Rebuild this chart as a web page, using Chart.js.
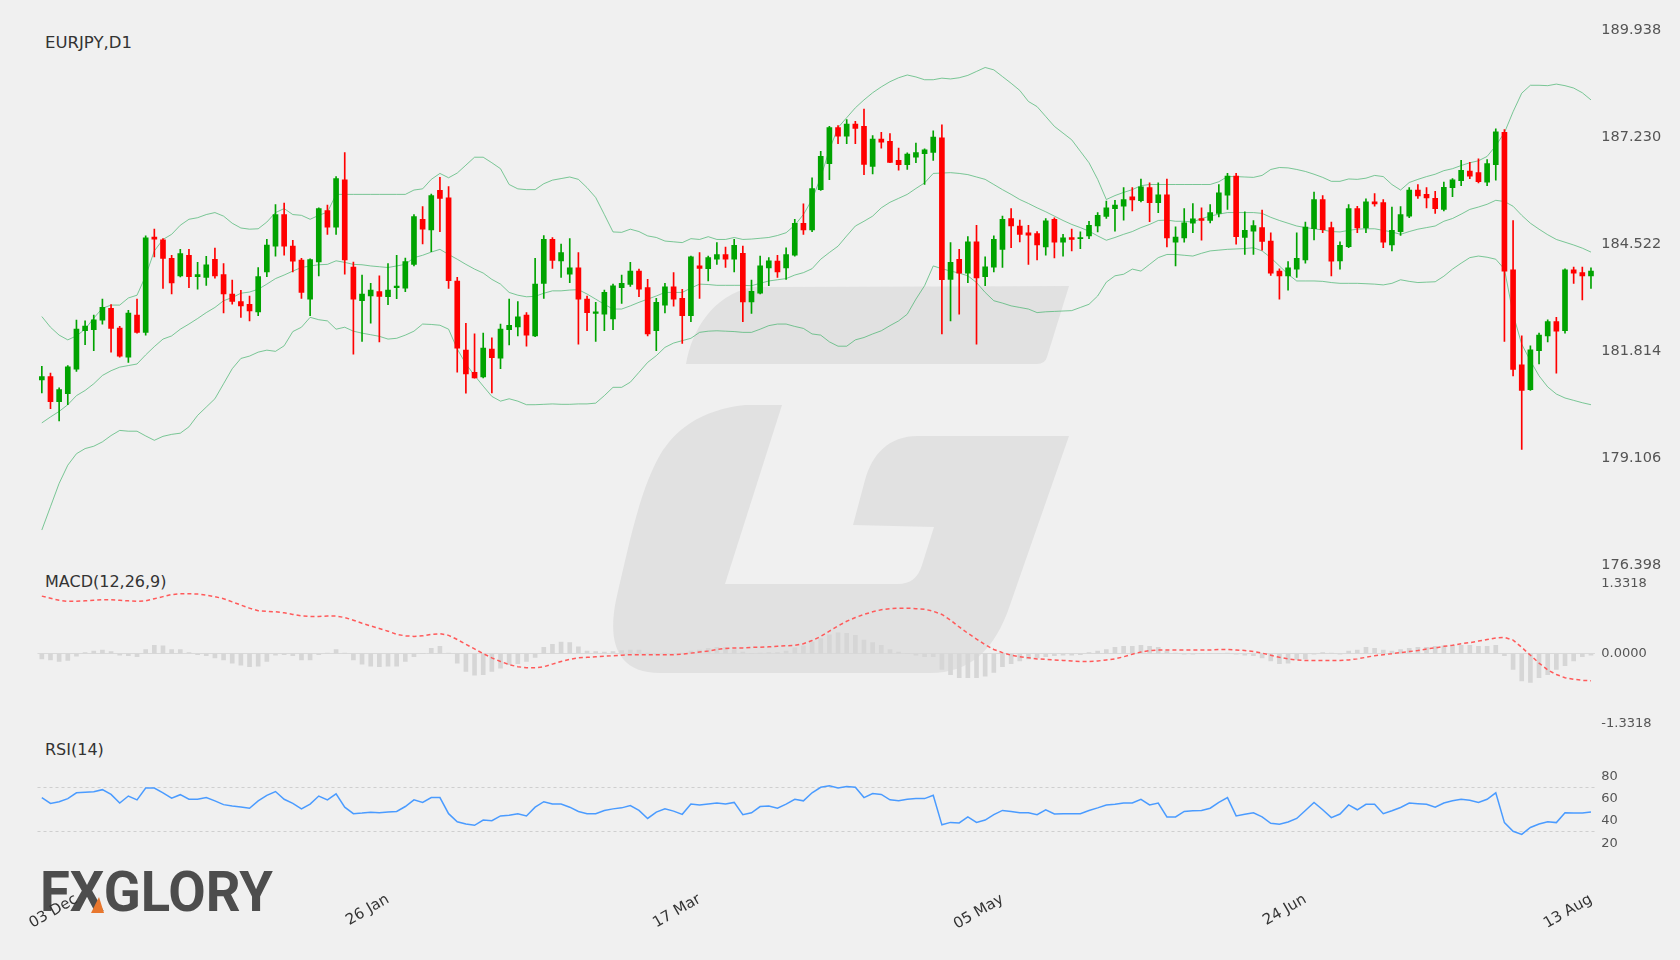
<!DOCTYPE html>
<html>
<head>
<meta charset="utf-8">
<script src="https://cdn.jsdelivr.net/npm/chart.js@4.4.1/dist/chart.umd.min.js"></script>
<style>
html,body{margin:0;padding:0;background:#f0f0f0;width:1680px;height:960px;overflow:hidden;font-family:"DejaVu Sans",sans-serif;}
canvas{position:absolute;left:0;}
#wm{position:absolute;left:0;top:0;}
.t{position:absolute;left:45px;font-size:16px;line-height:16px;color:#333;white-space:nowrap;}
#logo{position:absolute;left:40px;top:864px;font-family:Roboto,sans-serif;font-weight:700;font-size:56px;line-height:56px;color:#4d4d4d;transform-origin:left top;transform:scaleX(0.97);white-space:nowrap;}
</style>
</head>
<body>
<svg id="wm" width="1680" height="960">
  <path d="M686 364 C692 330 712 296 752 287 L1069 286 L1047 357 Q1045 364 1037 364 Z" fill="#e1e1e1"/>
  <path d="M782 405 L745 405 C700 410 675 430 660 455 C640 490 630 540 616 600 C608 640 615 673 660 673 L930 673 C970 673 995 650 1010 605 L1069 436 L918 436 C888 436 872 455 865 480 L853 525 L934 527 L922 565 C918 578 910 584 898 584 L725 584 Z" fill="#e1e1e1"/>
</svg>
<div id="logo">FXGLORY</div>
<svg style="position:absolute;left:0;top:0" width="1680" height="960"><path d="M91 913 L99 897 L104 913 Z" fill="#e8772e"/></svg>
<div class="t" style="top:35px;font-size:16.5px">EURJPY,D1</div>
<div class="t" style="top:574px">MACD(12,26,9)</div>
<div class="t" style="top:742px">RSI(14)</div>
<canvas id="main" width="1680" height="580" style="top:0"></canvas>
<canvas id="macd" width="1680" height="170" style="top:570px"></canvas>
<canvas id="rsi" width="1680" height="220" style="top:740px"></canvas>
<script>
const dateLabels = ['03 Dec','26 Jan','17 Mar','05 May','24 Jun','13 Aug'];
const dateIndex = [4, 40, 76, 111, 146, 179];
const priceTicks = [176.398, 179.106, 181.814, 184.522, 187.230, 189.938];
const macdTicks = [-1.3318, 0, 1.3318];
const rsiTicks = [20, 40, 60, 80];
const rsiLevels = [30, 70];

const open = [
181.09,181.17,180.54,180.74,181.36,182.33,182.36,182.60,182.90,182.40,
181.66,182.73,182.29,184.70,184.63,184.16,183.72,184.24,183.70,183.68,
184.14,183.75,183.26,183.07,183.00,182.81,183.82,184.47,185.27,184.47,
184.12,183.13,184.07,185.37,184.95,186.15,183.94,183.09,183.21,183.32,
183.19,183.42,183.41,184.01,185.15,184.88,185.88,185.69,183.59,181.84,
181.28,181.16,181.87,181.64,182.36,182.43,182.73,182.20,183.53,184.64,
184.10,183.76,183.92,183.13,182.77,182.75,182.63,183.42,183.50,183.84,
183.42,182.33,182.98,183.44,183.15,182.71,183.97,183.90,184.14,184.26,
184.14,184.29,183.06,183.28,183.92,184.09,183.92,184.24,185.05,184.88,
185.90,186.56,187.47,187.25,187.56,187.50,186.49,187.18,187.12,186.64,
186.53,186.72,186.81,186.84,187.21,183.63,184.14,183.79,184.58,183.70,
183.94,184.39,185.17,184.98,184.81,184.79,184.45,185.15,184.57,184.69,
184.66,184.73,184.98,185.22,185.42,185.48,185.72,185.62,185.95,185.57,
185.77,184.57,184.68,185.05,185.17,185.12,185.30,185.76,186.24,184.69,
184.85,184.94,184.60,183.84,183.72,183.89,184.12,184.91,185.65,184.94,
184.10,184.46,185.42,184.93,185.59,185.57,184.50,184.84,185.23,185.89,
185.78,185.68,185.40,185.95,186.13,186.37,186.33,186.09,186.53,187.35,
183.87,181.47,180.84,181.83,182.20,182.56,182.33,183.87,183.80,183.72];
const high = [
181.43,181.26,180.89,181.45,182.60,182.58,182.73,183.13,182.99,182.44,
182.85,183.13,184.73,184.90,184.66,184.24,184.39,184.39,184.06,184.21,
184.42,184.03,183.61,183.35,183.21,183.93,184.64,185.52,185.56,184.62,
184.16,184.15,185.44,185.51,186.23,186.84,184.07,183.74,183.53,183.72,
184.03,184.24,184.17,185.27,185.47,185.79,186.21,185.98,183.68,182.52,
182.25,182.27,182.15,182.50,183.13,183.07,182.79,184.16,184.74,184.69,
184.52,184.66,184.31,183.21,183.05,183.36,183.51,183.74,184.06,183.89,
183.63,183.15,183.53,183.80,183.38,184.22,184.31,184.22,184.56,184.45,
184.64,184.47,183.61,184.22,184.18,184.24,184.43,185.15,185.54,186.20,
186.87,187.50,187.52,187.67,187.63,187.94,187.27,187.35,187.32,186.95,
186.83,187.08,186.93,187.39,187.54,184.56,184.39,184.71,185.00,184.20,
184.73,185.23,185.42,185.13,185.00,184.84,185.17,185.19,184.77,184.90,
184.83,185.10,185.32,185.61,185.63,185.95,185.95,186.17,186.07,186.07,
186.17,184.96,185.42,185.55,185.44,185.52,186.03,186.31,186.31,185.34,
185.12,185.38,184.81,183.90,184.08,184.81,185.08,185.84,185.75,185.08,
184.58,185.52,185.48,185.67,185.80,185.65,185.46,185.47,185.95,186.03,
185.95,185.86,186.09,186.18,186.64,186.59,186.68,186.66,187.44,187.42,
185.12,182.20,181.95,182.27,182.61,182.67,183.90,183.94,183.94,183.92];
const low = [
180.76,180.36,180.05,180.46,181.30,181.98,181.83,182.50,181.79,181.66,
181.53,182.27,182.22,184.20,183.40,183.26,183.69,183.42,183.38,183.48,
183.66,182.78,183.00,182.67,182.58,182.71,183.70,184.22,184.24,183.82,
183.15,182.71,183.72,184.77,184.77,183.76,181.74,182.06,182.52,182.05,
182.99,183.14,183.32,183.97,184.53,184.33,184.84,183.40,181.28,180.75,
181.13,181.14,180.76,181.37,181.97,182.20,181.94,182.18,183.15,183.91,
183.68,183.55,181.99,182.33,182.06,182.33,182.36,183.02,183.45,183.19,
182.20,181.83,182.78,182.95,182.01,182.56,183.15,183.59,184.01,183.93,
183.82,182.56,182.77,183.26,183.47,183.68,183.63,184.22,184.77,184.84,
185.88,186.15,187.06,187.06,187.06,186.28,186.30,186.95,186.58,186.39,
186.41,186.58,186.03,186.64,182.25,182.58,182.75,183.55,181.99,183.47,
183.82,183.93,184.43,184.58,184.01,184.12,184.24,184.17,184.22,184.35,
184.41,184.66,184.83,185.17,184.85,185.13,185.36,185.59,185.09,185.32,
184.45,183.97,184.57,184.81,184.62,185.06,185.21,185.40,184.52,184.26,
184.26,184.37,183.73,183.13,183.36,183.68,184.04,184.63,184.81,183.72,
183.89,184.43,184.81,184.81,185.48,184.43,184.35,184.74,185.19,185.68,
185.44,185.30,185.36,185.72,186.00,186.18,186.07,186.00,186.14,182.06,
181.19,179.33,180.82,181.49,182.05,181.26,182.27,183.53,183.11,183.40];
const close = [
181.17,180.54,180.84,181.42,182.37,182.45,182.61,182.92,182.39,181.69,
182.78,182.29,184.68,184.65,184.16,183.54,184.28,183.70,183.75,184.00,
183.72,183.26,183.07,182.96,182.83,183.70,184.50,185.27,184.47,184.09,
183.30,184.13,185.42,184.95,186.18,184.12,183.13,183.26,183.36,183.20,
183.36,183.46,184.08,185.22,184.90,185.75,185.68,183.60,181.89,181.24,
181.14,181.89,181.65,182.37,182.47,182.68,182.22,183.51,184.64,184.11,
184.31,183.92,183.13,182.79,182.81,183.30,183.47,183.53,183.84,183.38,
182.25,183.05,183.44,183.13,182.71,184.20,183.91,184.18,184.26,184.14,
184.49,183.06,183.33,183.97,184.10,183.82,184.26,185.05,184.88,185.93,
186.74,187.47,187.25,187.56,187.45,186.54,187.18,187.10,186.59,186.53,
186.80,186.84,186.91,187.23,183.62,184.06,183.79,184.58,183.67,183.95,
184.64,185.15,184.98,184.77,184.75,184.50,185.11,184.57,184.68,184.64,
184.69,185.00,185.25,185.44,185.51,185.65,185.64,185.97,185.57,185.77,
184.68,184.70,185.06,185.16,185.12,185.32,185.82,186.24,184.71,184.87,
184.99,184.59,183.79,183.72,183.92,184.16,184.95,185.65,184.89,184.09,
184.49,185.42,184.93,185.59,185.54,184.57,184.87,185.27,185.89,185.74,
185.69,185.42,185.96,186.15,186.39,186.24,186.10,186.56,187.36,183.84,
181.35,180.82,181.85,182.22,182.56,182.32,183.87,183.79,183.72,183.84];

const bbUpper = [
182.69,182.42,182.22,182.10,182.20,182.37,182.65,182.90,182.98,182.98,
183.16,183.23,183.72,184.35,184.64,184.77,185.00,185.15,185.19,185.27,
185.32,185.23,185.05,184.93,184.90,184.91,185.08,185.32,185.42,185.27,
185.25,185.15,185.25,185.33,185.78,185.78,185.78,185.78,185.78,185.78,
185.78,185.78,185.78,185.89,185.92,186.16,186.31,186.20,186.32,186.52,
186.72,186.72,186.58,186.43,186.03,185.92,185.90,185.90,186.05,186.14,
186.18,186.22,186.16,185.95,185.70,185.27,184.83,184.82,184.90,184.84,
184.73,184.69,184.60,184.58,184.56,184.66,184.64,184.71,184.64,184.64,
184.69,184.64,184.65,184.67,184.69,184.74,184.81,185.00,185.27,185.65,
186.21,186.91,187.47,187.72,187.97,188.17,188.35,188.50,188.63,188.73,
188.80,188.75,188.68,188.68,188.72,188.70,188.73,188.79,188.89,188.99,
188.93,188.76,188.59,188.41,188.13,188.00,187.75,187.50,187.33,187.16,
186.87,186.58,186.16,185.65,185.75,185.83,185.90,186.00,186.03,186.03,
186.03,186.03,186.03,186.03,186.03,186.03,186.10,186.23,186.23,186.22,
186.21,186.26,186.41,186.46,186.45,186.41,186.36,186.29,186.21,186.11,
186.11,186.17,186.16,186.19,186.26,186.23,186.03,185.89,186.08,186.16,
186.23,186.29,186.38,186.43,186.51,186.58,186.63,186.74,187.01,187.34,
187.87,188.34,188.54,188.54,188.53,188.57,188.53,188.47,188.35,188.17];
const bbMiddle = [
180.00,180.15,180.29,180.46,180.69,180.82,180.99,181.20,181.32,181.41,
181.45,181.49,181.72,181.93,182.12,182.20,182.37,182.50,182.64,182.79,
182.92,183.09,183.17,183.28,183.31,183.38,183.51,183.65,183.74,183.84,
183.93,183.97,184.00,184.01,184.10,184.06,184.01,184.00,183.97,183.95,
183.93,183.97,184.01,184.18,184.24,184.32,184.39,184.26,184.14,184.01,
183.89,183.79,183.63,183.51,183.30,183.23,183.19,183.20,183.28,183.34,
183.34,183.36,183.37,183.26,183.13,183.00,182.88,182.88,182.96,183.05,
183.13,183.21,183.30,183.30,183.30,183.41,183.51,183.50,183.48,183.48,
183.48,183.48,183.47,183.53,183.59,183.62,183.65,183.74,183.80,183.90,
184.14,184.31,184.47,184.73,184.98,185.10,185.23,185.44,185.58,185.68,
185.78,185.93,186.07,186.31,186.32,186.33,186.31,186.28,186.22,186.16,
186.03,185.90,185.78,185.65,185.55,185.44,185.34,185.23,185.12,185.02,
184.94,184.85,184.73,184.62,184.69,184.77,184.84,184.94,185.02,185.12,
185.13,185.10,185.10,185.08,185.17,185.23,185.28,185.32,185.32,185.32,
185.32,185.30,185.20,185.12,185.05,184.98,184.94,184.91,184.88,184.84,
184.83,184.87,184.90,184.91,184.91,184.87,184.83,184.77,184.84,184.90,
184.94,184.98,185.10,185.17,185.28,185.40,185.46,185.53,185.63,185.60,
185.48,185.25,185.05,184.90,184.76,184.64,184.57,184.50,184.42,184.32];
const bbLower = [
177.29,177.88,178.47,178.93,179.22,179.35,179.41,179.52,179.68,179.81,
179.79,179.79,179.67,179.56,179.66,179.71,179.74,179.90,180.19,180.40,
180.61,180.99,181.37,181.63,181.69,181.79,181.84,181.81,181.95,182.31,
182.42,182.67,182.61,182.58,182.37,182.42,182.32,182.27,182.23,182.19,
182.12,182.14,182.22,182.32,182.50,182.49,182.47,182.37,181.87,181.49,
181.20,180.93,180.67,180.55,180.61,180.55,180.46,180.46,180.47,180.48,
180.47,180.47,180.48,180.48,180.50,180.69,180.90,180.90,181.03,181.28,
181.53,181.70,181.91,182.02,182.08,182.14,182.29,182.32,182.33,182.32,
182.31,182.29,182.29,182.37,182.46,182.50,182.50,182.44,182.39,182.25,
182.22,182.05,181.94,181.94,182.10,182.16,182.25,182.33,182.46,182.58,
182.75,183.13,183.47,183.97,183.90,183.84,183.79,183.72,183.55,183.30,
183.09,183.03,182.96,182.92,182.88,182.79,182.81,182.82,182.83,182.84,
182.92,183.00,183.21,183.56,183.72,183.76,183.89,183.84,184.01,184.18,
184.26,184.26,184.24,184.22,184.29,184.35,184.37,184.39,184.40,184.41,
184.43,184.35,184.18,183.97,183.76,183.59,183.59,183.59,183.58,183.55,
183.53,183.53,183.53,183.52,183.51,183.49,183.53,183.62,183.58,183.55,
183.56,183.57,183.71,183.89,184.04,184.18,184.22,184.19,184.14,183.89,
182.75,181.99,181.57,181.19,180.91,180.73,180.63,180.57,180.51,180.46];

const macdHist = [
-0.10,-0.12,-0.15,-0.13,-0.05,0.02,0.05,0.07,0.04,-0.03,
-0.04,-0.06,0.08,0.16,0.15,0.08,0.08,0.02,-0.02,-0.04,
-0.08,-0.12,-0.18,-0.22,-0.25,-0.24,-0.15,-0.03,-0.02,-0.04,
-0.12,-0.12,-0.02,0.01,0.08,0.01,-0.12,-0.20,-0.24,-0.25,
-0.24,-0.24,-0.15,-0.06,0.00,0.10,0.14,0.01,-0.18,-0.34,
-0.41,-0.40,-0.34,-0.28,-0.21,-0.19,-0.15,-0.07,0.12,0.18,
0.22,0.21,0.13,0.05,0.04,0.03,0.04,0.06,0.07,0.07,
0.01,-0.01,0.01,0.00,0.01,0.05,0.07,0.10,0.12,0.12,
0.08,0.03,0.00,0.01,0.02,0.02,0.05,0.11,0.15,0.22,
0.29,0.36,0.40,0.39,0.35,0.26,0.21,0.16,0.08,0.03,
0.00,-0.03,-0.06,-0.06,-0.30,-0.40,-0.46,-0.46,-0.46,-0.43,
-0.36,-0.25,-0.19,-0.14,-0.10,-0.08,-0.06,-0.04,-0.03,-0.03,
-0.02,0.02,0.05,0.08,0.12,0.14,0.14,0.16,0.14,0.12,
0.05,0.01,-0.01,-0.01,0.00,0.00,0.00,0.01,-0.01,-0.03,
-0.04,-0.08,-0.14,-0.19,-0.18,-0.11,-0.10,-0.01,0.02,0.01,
-0.01,0.05,0.07,0.12,0.10,0.07,0.05,0.08,0.10,0.12,
0.12,0.14,0.15,0.16,0.16,0.16,0.14,0.14,0.16,-0.04,
-0.30,-0.52,-0.55,-0.46,-0.40,-0.30,-0.23,-0.14,-0.06,-0.03];
const macdSignal = [
1.10,1.06,1.02,1.00,1.00,1.01,1.02,1.03,1.03,1.02,
1.01,1.00,1.01,1.05,1.09,1.13,1.145,1.145,1.14,1.12,
1.09,1.05,0.99,0.93,0.87,0.82,0.81,0.80,0.78,0.75,
0.72,0.71,0.71,0.72,0.72,0.69,0.64,0.58,0.53,0.48,
0.43,0.37,0.34,0.33,0.34,0.37,0.38,0.35,0.27,0.18,
0.09,0.00,-0.08,-0.15,-0.21,-0.25,-0.27,-0.27,-0.25,-0.20,
-0.15,-0.11,-0.08,-0.07,-0.06,-0.05,-0.04,-0.03,-0.02,-0.02,
-0.02,-0.02,-0.02,-0.02,-0.01,0.01,0.03,0.05,0.08,0.10,
0.11,0.11,0.12,0.12,0.13,0.14,0.15,0.16,0.19,0.25,
0.33,0.43,0.53,0.62,0.69,0.75,0.80,0.84,0.86,0.87,
0.87,0.86,0.85,0.81,0.75,0.64,0.51,0.39,0.28,0.17,
0.08,0.02,-0.03,-0.06,-0.08,-0.10,-0.11,-0.12,-0.13,-0.14,
-0.15,-0.15,-0.14,-0.12,-0.10,-0.06,-0.01,0.03,0.06,0.07,
0.07,0.07,0.07,0.07,0.07,0.07,0.08,0.08,0.07,0.06,
0.04,0.01,-0.03,-0.07,-0.10,-0.12,-0.13,-0.13,-0.13,-0.13,
-0.13,-0.12,-0.10,-0.07,-0.04,-0.02,0.00,0.02,0.04,0.06,
0.09,0.11,0.14,0.16,0.19,0.21,0.24,0.27,0.30,0.31,
0.26,0.12,-0.03,-0.18,-0.31,-0.40,-0.46,-0.49,-0.51,-0.52];

const rsi = [
60.8,55.6,57.1,59.9,65.1,65.5,66.0,67.9,63.6,55.9,
62.2,58.8,69.4,69.4,65.1,60.2,63.4,59.3,59.3,60.8,
57.9,54.5,53.3,52.4,51.3,57.9,62.8,66.2,59.3,55.6,
50.7,55.0,62.2,58.8,64.2,52.2,46.4,46.9,47.6,47.2,
47.8,48.4,52.8,58.8,56.5,60.8,60.8,46.4,39.2,37.2,
36.0,40.7,40.1,44.4,45.0,46.4,44.4,52.2,57.1,55.0,
55.0,52.2,48.4,46.4,46.4,49.3,50.7,51.6,53.6,49.3,
42.1,47.8,50.7,48.7,45.8,55.0,54.2,55.0,55.9,55.0,
56.5,45.5,47.2,52.8,53.3,51.3,55.0,59.3,57.9,65.1,
70.0,71.4,69.5,70.8,70.0,60.8,64.5,63.6,58.8,57.9,
59.3,59.9,59.9,62.8,36.4,38.6,38.1,43.5,38.6,40.7,
45.5,49.3,48.4,47.2,47.2,45.5,49.9,46.1,46.4,46.4,
46.4,49.3,51.6,54.2,54.8,55.9,55.9,59.3,54.2,55.9,
43.5,43.5,48.4,49.0,49.3,51.3,56.5,60.8,44.4,45.8,
47.2,43.5,37.8,36.9,38.9,42.1,49.3,56.5,49.9,42.9,
46.1,54.2,49.9,54.8,54.8,46.4,49.0,51.9,55.9,55.3,
54.8,52.2,55.9,57.9,59.3,58.5,56.5,59.3,65.1,38.4,
30.6,27.8,34.0,37.2,39.2,38.4,47.2,46.9,46.9,47.8];

// ---------- chart setup ----------
Chart.defaults.font.family = '"DejaVu Sans", sans-serif';
Chart.defaults.animation = false;
Chart.defaults.plugins.legend.display = false;
Chart.defaults.plugins.tooltip.enabled = false;

const N = close.length;
const idx = close.map((_, i) => i);
const GREEN = '#00a300', RED = '#ff0000';
const candleColor = idx.map(i => close[i] >= open[i] ? GREEN : RED);
const BB = 'rgba(70,180,110,0.7)';
const AXIS_W = 84.7, PAD_L = 37.5;
const pts = arr => arr.map((v, i) => ({x: i, y: v}));
const fitY = s => { s.width = AXIS_W; };
const hiddenX = { type: 'linear', min: -0.5, max: N - 0.5, offset: false, display: false };
const yTickStyle = { color: '#555', padding: 6 };

new Chart(document.getElementById('main'), {
  type: 'bar',
  data: { datasets: [
    { type: 'line', data: pts(bbUpper), borderColor: BB, borderWidth: 1, pointRadius: 0, order: 5 },
    { type: 'line', data: pts(bbMiddle), borderColor: BB, borderWidth: 1, pointRadius: 0, order: 5 },
    { type: 'line', data: pts(bbLower), borderColor: BB, borderWidth: 1, pointRadius: 0, order: 5 },
    { type: 'bar', data: idx.map(i => ({x: i, y: [low[i], high[i]]})), backgroundColor: candleColor, barThickness: 1, grouped: false, order: 2 },
    { type: 'bar', data: idx.map(i => ({x: i, y: [open[i], close[i]]})), backgroundColor: candleColor, barThickness: 5, minBarLength: 1, grouped: false, order: 1 }
  ]},
  options: {
    responsive: false,
    layout: { padding: { left: PAD_L, top: 30, bottom: 13, right: 0 } },
    scales: {
      x: hiddenX,
      y: { position: 'right', min: priceTicks[0], max: priceTicks[priceTicks.length - 1],
        afterFit: fitY,
        afterBuildTicks: s => { s.ticks = priceTicks.map(v => ({value: v})); },
        ticks: Object.assign({ callback: v => Number(v).toFixed(3), font: { size: 14.5 } }, yTickStyle),
        grid: { display: false, drawTicks: false }, border: { display: false } }
    }
  }
});

new Chart(document.getElementById('macd'), {
  type: 'bar',
  data: { datasets: [
    { type: 'line', data: pts(macdSignal), borderColor: '#ff5a5a', borderDash: [4, 3], borderWidth: 1.5, pointRadius: 0, order: 1 },
    { type: 'bar', data: pts(macdHist), backgroundColor: '#d6d6d6', barThickness: 4, grouped: false, order: 2 }
  ]},
  options: {
    responsive: false,
    layout: { padding: { left: PAD_L, top: 14, bottom: 16.7, right: 0 } },
    scales: {
      x: hiddenX,
      y: { position: 'right', min: macdTicks[0], max: macdTicks[2],
        afterFit: fitY,
        afterBuildTicks: s => { s.ticks = macdTicks.map(v => ({value: v})); },
        ticks: Object.assign({ callback: v => Number(v).toFixed(4), font: { size: 13 } }, yTickStyle),
        grid: { color: c => (c.tick && c.tick.value === 0) ? '#d9d9d9' : 'rgba(0,0,0,0)', drawTicks: false },
        border: { display: false } }
    }
  }
});

new Chart(document.getElementById('rsi'), {
  type: 'line',
  data: { datasets: [
    { data: pts(rsi), borderColor: '#4a9bff', borderWidth: 1.5, pointRadius: 0 }
  ]},
  options: {
    responsive: false,
    layout: { padding: { left: PAD_L, top: 9.5, bottom: 0, right: 0 } },
    scales: {
      x: { type: 'linear', min: -0.5, max: N - 0.5, offset: false,
        afterFit: s => { s.height = 94.5; },
        afterBuildTicks: s => { s.ticks = dateIndex.map(v => ({value: v})); },
        ticks: { autoSkip: false, minRotation: 30, maxRotation: 30, padding: 25,
          callback: v => dateLabels[dateIndex.indexOf(v)], color: '#333', font: { size: 15 } },
        grid: { display: false, drawTicks: false }, border: { display: false } },
      y: { position: 'right', min: 0, max: 100,
        afterFit: fitY,
        afterBuildTicks: s => { s.ticks = rsiTicks.concat(rsiLevels).sort((a, b) => a - b).map(v => ({value: v})); },
        ticks: Object.assign({ callback: v => rsiTicks.includes(v) ? String(v) : '', font: { size: 13 } }, yTickStyle),
        grid: { color: c => (c.tick && rsiLevels.includes(c.tick.value)) ? '#cfcfcf' : 'rgba(0,0,0,0)', drawTicks: false },
        border: { display: false, dash: [3, 3] } }
    }
  }
});
</script>
</body>
</html>
